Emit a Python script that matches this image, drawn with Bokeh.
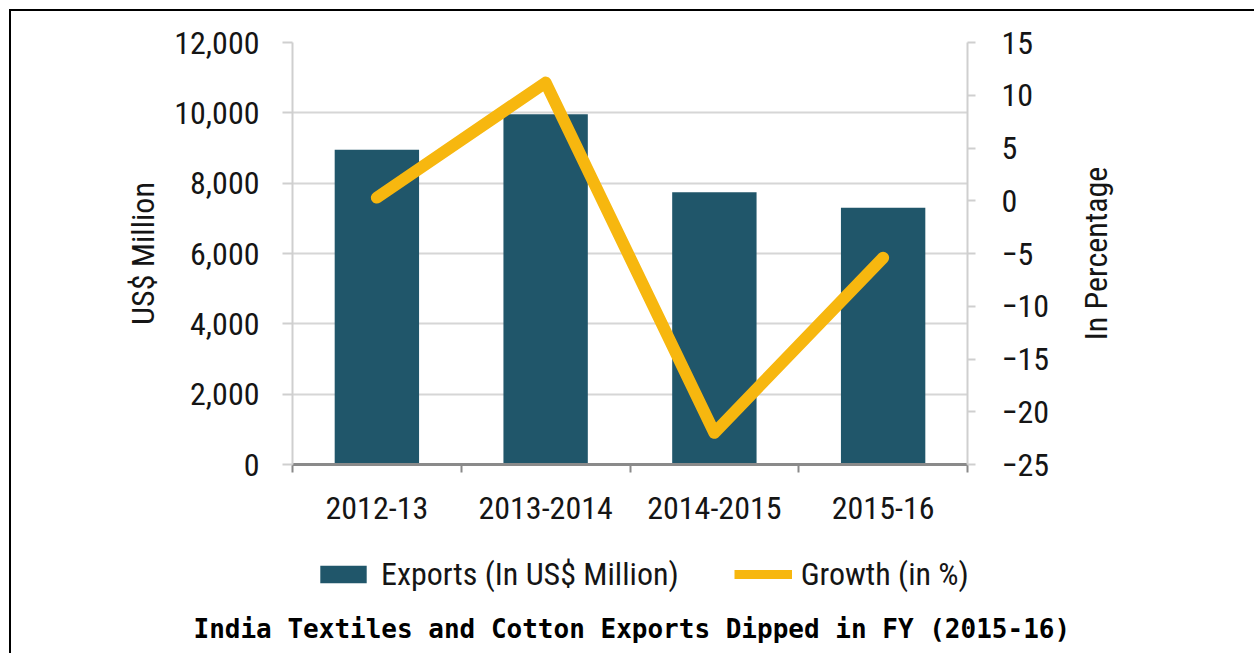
from bokeh.plotting import figure
from bokeh.layouts import column, row
from bokeh.models import (Range1d, LinearAxis, SingleIntervalTicker, FixedTicker,
                          NumeralTickFormatter, Legend, LegendItem, Title, ColumnDataSource)
from bokeh.embed import file_html
from bokeh.resources import INLINE

# ---- data ----
categories = ["2012-13", "2013-2014", "2014-2015", "2015-16"]
exports = [8950, 9960, 7745, 7300]          # US$ Million
growth = [0.3, 11.2, -22.0, -5.4]           # percent
legend_labels = ["Exports (In US$ Million)", "Growth (in %)"]
left_label = "US$ Million"
right_label = "In Percentage"
chart_title = "India Textiles and Cotton Exports Dipped in FY (2015-16)"

FONT = "'Liberation Sans Narrow', 'Noto Sans Condensed', 'Roboto Condensed', Roboto, sans-serif"
TXT = "#151515"
BAR = "#20566a"
LINE = "#f7b70f"

xs = [i + 0.5 for i in range(len(categories))]
src = ColumnDataSource(dict(x=xs, exports=exports, growth=growth, cat=categories))

# ---------------- main chart ----------------
p = figure(frame_width=675, frame_height=422, output_backend="svg", toolbar_location=None,
           x_range=Range1d(0, len(categories)), y_range=Range1d(0, 12000),
           min_border_left=281, min_border_right=107, min_border_top=31,
           min_border_bottom=72, outline_line_color=None)
p.extra_y_ranges = {"pct": Range1d(-25, 15)}

bars = p.vbar(x="x", top="exports", width=0.5, source=src, color=BAR, line_color=None)
line = p.line(x="x", y="growth", source=src, y_range_name="pct", line_color=LINE,
              line_width=12, line_cap="round", line_join="round")

# x axis
xa = p.xaxis[0]
xa.ticker = FixedTicker(ticks=xs, minor_ticks=list(range(len(categories) + 1)))
xa.major_label_overrides = {x: c for x, c in zip(xs, categories)}
xa.major_tick_line_color = None
xa.minor_tick_in = 0
xa.minor_tick_out = 8
xa.minor_tick_line_color = "#8a8a8a"
xa.minor_tick_line_width = 2
xa.axis_line_color = "#8a8a8a"
xa.axis_line_width = 3
xa.major_label_text_font = FONT
xa.major_label_text_font_size = "32px"
xa.major_label_text_color = TXT
xa.major_label_standoff = 24
p.xgrid.grid_line_color = None

# left axis
ya = p.yaxis[0]
ya.ticker = SingleIntervalTicker(interval=2000)
ya.formatter = NumeralTickFormatter(format="0,0")
ya.axis_line_color = "#cfcfcf"
ya.axis_line_width = 2
ya.major_tick_line_color = "#cfcfcf"
ya.major_tick_line_width = 2
ya.major_tick_in = 0
ya.major_tick_out = 10
ya.minor_tick_line_color = None
ya.major_label_text_font = FONT
ya.major_label_text_font_size = "32px"
ya.major_label_text_color = TXT
ya.major_label_standoff = 23
ya.axis_label = left_label
ya.axis_label_text_font = FONT
ya.axis_label_text_font_size = "32px"
ya.axis_label_text_font_style = "normal"
ya.axis_label_text_color = TXT
ya.axis_label_standoff = 9
p.ygrid.grid_line_color = "#d6d6d6"
p.ygrid.grid_line_width = 2

# right axis (its title is drawn in the strip to the right, reading upwards)
ra = LinearAxis(y_range_name="pct", ticker=SingleIntervalTicker(interval=5))
ra.axis_line_color = "#cfcfcf"
ra.axis_line_width = 2
ra.major_tick_line_color = "#cfcfcf"
ra.major_tick_line_width = 2
ra.major_tick_in = 0
ra.major_tick_out = 8
ra.minor_tick_line_color = None
ra.major_label_text_font = FONT
ra.major_label_text_font_size = "32px"
ra.major_label_text_color = TXT
ra.major_label_standoff = 26
p.add_layout(ra, "right")

# ---------------- right-axis title strip ----------------
r = figure(width=180, height=525, output_backend="svg", toolbar_location=None,
           x_axis_type=None, y_axis_type=None, x_range=Range1d(0, 1), y_range=Range1d(0, 1),
           min_border_left=0, min_border_right=0, min_border_top=31, min_border_bottom=72,
           outline_line_color=None)
r.grid.visible = False
r.add_layout(Title(text=right_label, align="center", text_font=FONT, text_font_size="32px",
                   text_font_style="normal", text_color=TXT, standoff=0), "left")

# ---------------- legend + caption strip ----------------
q = figure(frame_width=1243, frame_height=75, output_backend="svg", toolbar_location=None,
           x_axis_type=None, y_axis_type=None,
           x_range=Range1d(-10, -9), y_range=Range1d(0, 1),
           min_border=0, outline_line_color=None)
q.grid.visible = False
# legend swatches: same data, outside this strip's visible range
sw_bar = q.vbar(x="x", top="exports", width=0.5, source=src, color=BAR, line_color=None)
sw_line = q.line(x="x", y="growth", source=src, line_color=LINE, line_width=9)

legend = Legend(items=[LegendItem(label=legend_labels[0], renderers=[sw_bar]),
                       LegendItem(label=legend_labels[1], renderers=[sw_line])],
                orientation="horizontal", location=(303, 18),
                label_text_font=FONT, label_text_font_size="32px", label_text_color=TXT,
                glyph_width=58, glyph_height=22, label_standoff=9, spacing=55,
                padding=4, margin=0, border_line_color=None, background_fill_alpha=0)
q.add_layout(legend, "center")

q.add_layout(Title(text=chart_title, align="left", offset=182, text_font="DejaVu Sans Mono",
                   text_font_size="26px", text_font_style="bold", text_color="#000000",
                   standoff=0), "below")

page = column(row(p, r, spacing=0), q, spacing=0)
page.styles = {"border-left": "2px solid black", "border-top": "2px solid black",
               "margin-left": "9px", "margin-top": "9px", "padding-bottom": "10px"}

open("out.html", "w").write(file_html(page, INLINE))
